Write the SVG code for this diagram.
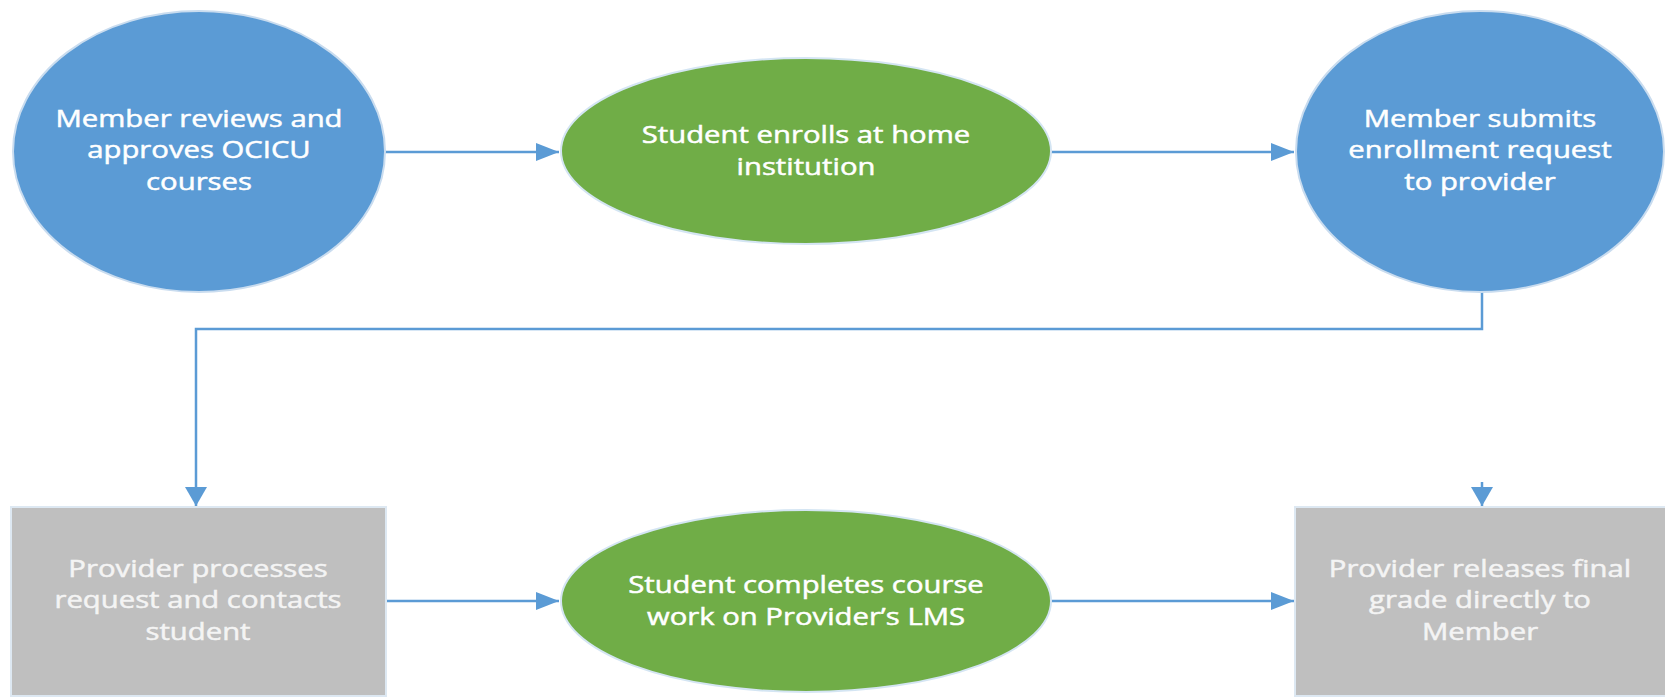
<svg xmlns="http://www.w3.org/2000/svg" width="1665" height="698" viewBox="0 0 1665 698">
  <style>
    .blue { fill: #5b9bd5; stroke: #c9dcef; stroke-width: 2; }
    .green { fill: #70ad47; stroke: #d4e5f3; stroke-width: 2; }
    .gray { fill: #bfbfbf; stroke: #dde8f2; stroke-width: 2; }
    .lbl { font-family: "Open Sans", "Noto Sans", "DejaVu Sans", sans-serif; font-size: 24px; fill: #ffffff; stroke: #ffffff; stroke-width: 0.5; text-anchor: middle; }
    .lblg { fill: #f4f4f4; stroke: #f4f4f4; }
    .conn { fill: none; stroke: #5b9bd5; stroke-width: 2.5; }
  </style>
  <defs>
    <marker id="ah" markerUnits="userSpaceOnUse" markerWidth="24" markerHeight="18" refX="23" refY="9" orient="auto">
      <path d="M0,0 L23,9 L0,18 Z" fill="#5b9bd5"/>
    </marker>
    <marker id="av" markerUnits="userSpaceOnUse" markerWidth="20" markerHeight="22" refX="19" refY="11" orient="auto">
      <path d="M0,0 L19,11 L0,22 Z" fill="#5b9bd5"/>
    </marker>
  </defs>
  <rect width="1665" height="698" fill="#ffffff"/>

  <g id="connectors">
    <path class="conn" d="M385,152 H559" marker-end="url(#ah)"/>
    <path class="conn" d="M1051,152 H1294" marker-end="url(#ah)"/>
    <path class="conn" d="M1482,292 V329 H196 V506" marker-end="url(#av)"/>
    <path class="conn" d="M1482,482 V506" marker-end="url(#av)"/>
    <path class="conn" d="M386,601 H559" marker-end="url(#ah)"/>
    <path class="conn" d="M1051,601 H1294" marker-end="url(#ah)"/>
  </g>

  <g id="n1">
    <ellipse class="blue" cx="199" cy="151.5" rx="186" ry="140.5"/>
    <g transform="translate(199,0) scale(1.22,1)">
      <text class="lbl" x="0" y="127">Member reviews and</text>
      <text class="lbl" x="0" y="158.5">approves OCICU</text>
      <text class="lbl" x="0" y="190">courses</text>
    </g>
  </g>

  <g id="n2">
    <ellipse class="green" cx="806" cy="151" rx="245" ry="93"/>
    <g transform="translate(806,0) scale(1.22,1)">
      <text class="lbl" x="0" y="143">Student enrolls at home</text>
      <text class="lbl" x="0" y="175">institution</text>
    </g>
  </g>

  <g id="n3">
    <ellipse class="blue" cx="1480" cy="151.5" rx="184" ry="140.5"/>
    <g transform="translate(1480,0) scale(1.22,1)">
      <text class="lbl" x="0" y="127">Member submits</text>
      <text class="lbl" x="0" y="158.5">enrollment request</text>
      <text class="lbl" x="0" y="190">to provider</text>
    </g>
  </g>

  <g id="n4">
    <rect class="gray" x="11" y="507" width="375" height="189"/>
    <g transform="translate(198,0) scale(1.22,1)">
      <text class="lbl lblg" x="0" y="577">Provider processes</text>
      <text class="lbl lblg" x="0" y="608.5">request and contacts</text>
      <text class="lbl lblg" x="0" y="640">student</text>
    </g>
  </g>

  <g id="n5">
    <ellipse class="green" cx="806" cy="601" rx="245" ry="91"/>
    <g transform="translate(806,0) scale(1.22,1)">
      <text class="lbl" x="0" y="593">Student completes course</text>
      <text class="lbl" x="0" y="625">work on Provider’s LMS</text>
    </g>
  </g>

  <g id="n6">
    <rect class="gray" x="1295" y="507" width="372" height="189"/>
    <g transform="translate(1480,0) scale(1.22,1)">
      <text class="lbl lblg" x="0" y="577">Provider releases final</text>
      <text class="lbl lblg" x="0" y="608.5">grade directly to</text>
      <text class="lbl lblg" x="0" y="640">Member</text>
    </g>
  </g>
</svg>
